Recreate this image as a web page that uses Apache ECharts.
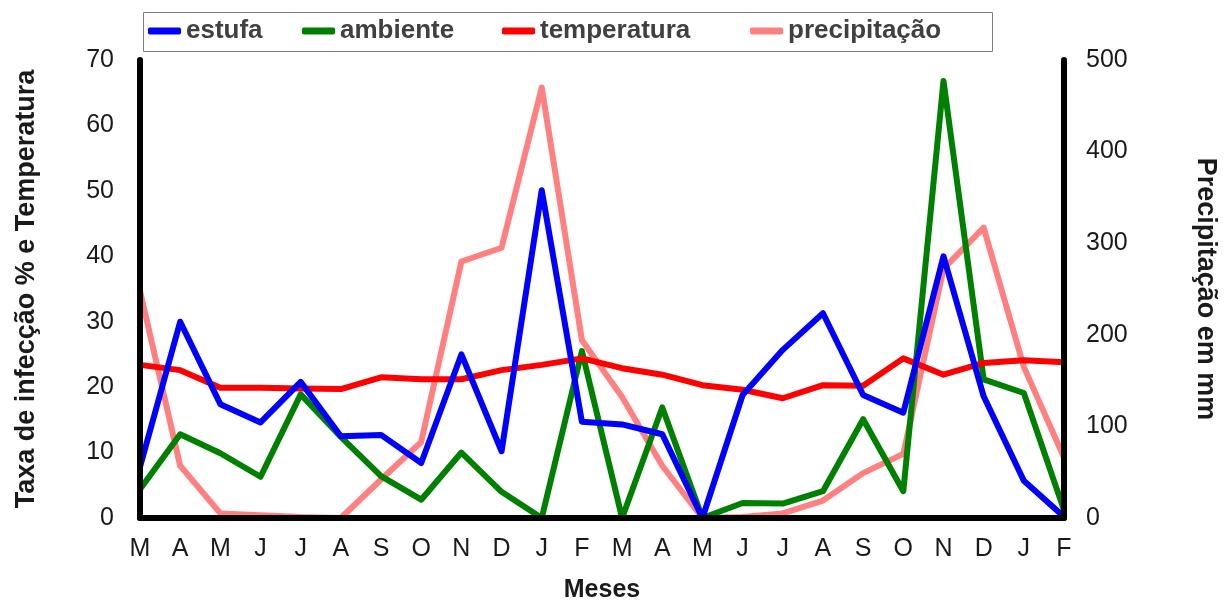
<!DOCTYPE html>
<html>
<head>
<meta charset="utf-8">
<script src="https://cdn.jsdelivr.net/npm/echarts@6/dist/echarts.min.js"></script>
<style>
html,body{margin:0;padding:0;background:#fff;}
#chart{width:1229px;height:604px;}
</style>
</head>
<body>
<div id="chart"></div>
<script>
var months = ['M','A','M','J','J','A','S','O','N','D','J','F','M','A','M','J','J','A','S','O','N','D','J','F'];
var estufa = [7.8, 30, 17.4, 14.6, 20.8, 12.5, 12.7, 8.4, 25, 10.2, 50.1, 14.7, 14.3, 12.8, 0, 18.8, 25.7, 31.3, 18.8, 16.1, 40, 18.6, 5.7, 0.2];
var ambiente = [4.4, 12.8, 9.9, 6.3, 18.9, 12.4, 6.4, 2.8, 10, 4, 0, 25.5, 0, 16.9, 0, 2.3, 2.2, 4.1, 15.1, 4.1, 66.8, 21.2, 19.1, 1.2];
var temperatura = [23.4, 22.6, 19.9, 19.9, 19.8, 19.7, 21.5, 21.2, 21.2, 22.6, 23.4, 24.4, 22.9, 21.9, 20.3, 19.6, 18.3, 20.3, 20.2, 24.4, 21.9, 23.7, 24.1, 23.8];
var precipitacao = [248, 57, 5, 3, 1, 0, 42, 83, 280, 295, 470, 194, 132, 57, 0, 1, 5, 19, 49, 70, 272, 317, 165, 66];
var leftTicks = {min: 0, max: 70, interval: 10};
var rightTicks = {min: 0, max: 500, interval: 100};

var chart = echarts.init(document.getElementById('chart'), null, {renderer: 'canvas'});
var fontFam = '"Liberation Sans", Arial, sans-serif';
var tickColor = '#1a1a1a';
var legendText = {fontFamily: fontFam, fontSize: 26, fontWeight: 'bold', color: '#404040'};
function leg(name, left) {
  return {
    data: [name], left: left, top: 18, icon: 'roundRect',
    itemWidth: 33, itemHeight: 7, padding: 0, textStyle: legendText,
    selectedMode: false
  };
}
function line(name, data, color, yIndex, z) {
  return {
    name: name, type: 'line', data: data, yAxisIndex: yIndex,
    showSymbol: false, symbol: 'none', z: z,
    lineStyle: {color: color, width: 6, join: 'round', cap: 'round'},
    itemStyle: {color: color},
    animation: false
  };
}
var option = {
  animation: false,
  backgroundColor: '#fff',
  graphic: [{
    type: 'rect', left: 141, top: 10, z: -1,
    shape: {width: 849, height: 39},
    style: {fill: 'none', stroke: '#7f7f7f', lineWidth: 1}
  }],
  legend: [leg('estufa', 148), leg('ambiente', 302), leg('temperatura', 502), leg('precipitação', 750)],
  grid: {left: 140, right: 165, top: 60, bottom: 86, containLabel: false, outerBoundsMode: 'none'},
  xAxis: {
    type: 'category', data: months, boundaryGap: false,
    axisLine: {show: true, lineStyle: {color: '#000', width: 6, cap: 'round'}},
    axisTick: {show: false},
    axisLabel: {fontFamily: fontFam, fontSize: 25, color: tickColor, margin: 19},
    name: 'Meses', nameLocation: 'middle', nameGap: 60,
    nameTextStyle: {fontFamily: fontFam, fontSize: 25, fontWeight: 'bold', color: tickColor},
    z: 10
  },
  yAxis: [{
    type: 'value', min: leftTicks.min, max: leftTicks.max, interval: leftTicks.interval,
    position: 'left',
    axisLine: {show: true, lineStyle: {color: '#000', width: 6, cap: 'round'}},
    axisTick: {show: false}, splitLine: {show: false},
    axisLabel: {fontFamily: fontFam, fontSize: 25, color: tickColor, margin: 26},
    name: 'Taxa de infecção % e Temperatura', nameLocation: 'middle', nameGap: 100, nameRotate: 90,
    nameTextStyle: {fontFamily: fontFam, fontSize: 27, fontWeight: 'bold', color: tickColor},
    z: 10
  }, {
    type: 'value', min: rightTicks.min, max: rightTicks.max, interval: rightTicks.interval,
    position: 'right',
    axisLine: {show: true, lineStyle: {color: '#000', width: 6, cap: 'round'}},
    axisTick: {show: false}, splitLine: {show: false},
    axisLabel: {fontFamily: fontFam, fontSize: 25, color: tickColor, margin: 22},
    name: 'Precipitação em mm', nameLocation: 'middle', nameGap: 128, nameRotate: -90,
    nameTextStyle: {fontFamily: fontFam, fontSize: 27, fontWeight: 'bold', color: tickColor},
    z: 10
  }],
  series: [
    line('precipitação', precipitacao, '#FF8080', 1, 2),
    line('ambiente', ambiente, '#008000', 0, 3),
    line('temperatura', temperatura, '#FF0000', 0, 4),
    line('estufa', estufa, '#0000FF', 0, 5)
  ]
};
chart.setOption(option);
</script>
</body>
</html>
